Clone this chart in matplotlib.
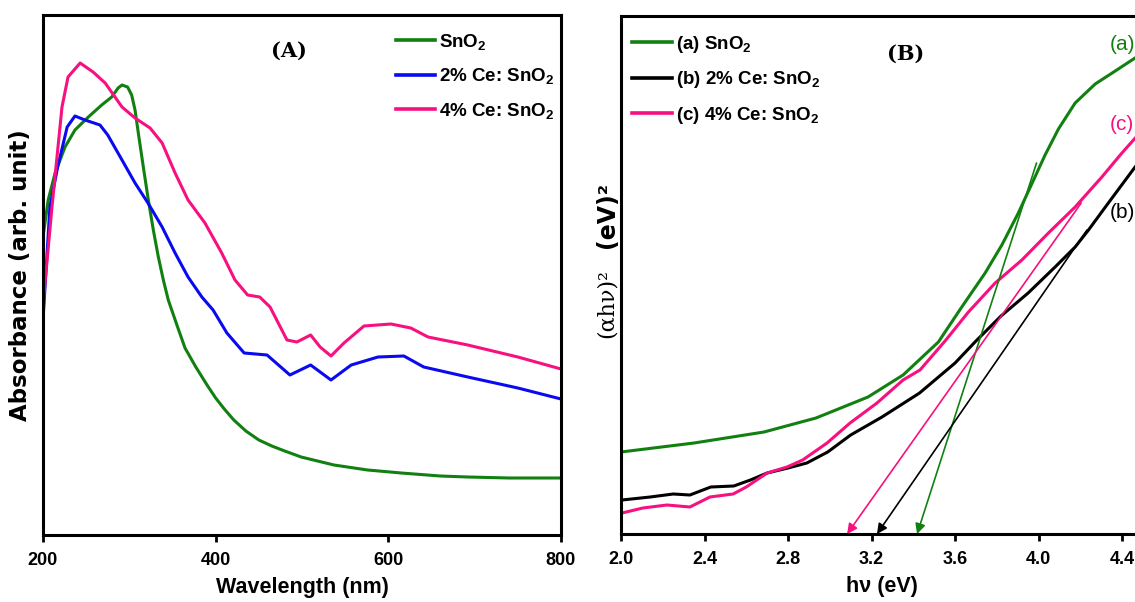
import numpy as np
import matplotlib
matplotlib.use("Agg")
import matplotlib.pyplot as plt

# UV-Vis absorbance spectra (arbitrary units)
wl_sno2 = [200, 206, 214, 225.5, 237, 252.5, 268, 279.6, 287, 291.5, 298, 302.7, 306.6, 310.4,
           316.2, 322, 327.8, 333.6, 339.4, 345.1, 355.9, 364.5, 377, 390, 400, 410, 421, 435,
           450, 465, 480, 499, 537, 576, 615, 660, 692, 740, 800]
abs_sno2 = [2.98, 3.35, 3.62, 3.88, 4.05, 4.18, 4.30, 4.38, 4.47, 4.50, 4.48, 4.40, 4.25, 4.02,
            3.68, 3.35, 3.05, 2.78, 2.55, 2.35, 2.08, 1.87, 1.68, 1.50, 1.37, 1.26, 1.15, 1.04,
            0.95, 0.89, 0.84, 0.78, 0.70, 0.65, 0.62, 0.59, 0.58, 0.57, 0.57]

wl_ce2 = [200, 208, 217, 228, 237, 248.6, 266, 275, 291.5, 306.6, 321.6, 338, 353, 368, 384,
          397, 413, 433, 459.5, 486, 510, 533.6, 557, 588, 618, 641, 692, 750, 800]
abs_ce2 = [2.15, 3.28, 3.68, 4.08, 4.19, 4.15, 4.10, 4.00, 3.75, 3.52, 3.32, 3.08, 2.82, 2.58, 2.38,
           2.25, 2.02, 1.82, 1.80, 1.60, 1.70, 1.55, 1.70, 1.78, 1.79, 1.68, 1.58, 1.47, 1.36]

wl_ce4 = [200, 210.4, 222, 229, 243, 258, 272, 291.5, 306.6, 324, 338, 353, 368, 387.6, 407,
          422.4, 437, 451, 463, 482.6, 494, 510, 521, 533.6, 548.6, 571.8, 603, 626, 646, 692,
          750, 800]
abs_ce4 = [2.30, 3.28, 4.28, 4.58, 4.72, 4.63, 4.52, 4.28, 4.17, 4.07, 3.92, 3.62, 3.35, 3.12, 2.82,
           2.55, 2.40, 2.38, 2.28, 1.95, 1.93, 2.00, 1.88, 1.79, 1.92, 2.09, 2.11, 2.07, 1.98, 1.90,
           1.78, 1.66]

# Tauc plot (alpha h nu)^2 vs photon energy
ev_a = [2.0, 2.35, 2.685, 2.934, 3.183, 3.351, 3.52, 3.632, 3.744, 3.824, 3.903, 3.967, 4.031,
        4.095, 4.175, 4.271, 4.367, 4.462]
tauc_a = [0.82, 0.91, 1.02, 1.16, 1.37, 1.59, 1.92, 2.27, 2.61, 2.89, 3.21, 3.50, 3.79,
          4.05, 4.31, 4.50, 4.63, 4.76]

ev_b = [2.005, 2.14, 2.25, 2.33, 2.43, 2.54, 2.62, 2.70, 2.80, 2.89, 2.99, 3.10, 3.25, 3.43,
        3.60, 3.70, 3.82, 3.95, 4.079, 4.175, 4.239, 4.334, 4.462]
tauc_b = [0.34, 0.37, 0.40, 0.39, 0.47, 0.48, 0.54, 0.61, 0.66, 0.71, 0.82, 0.99, 1.17, 1.41,
          1.71, 1.93, 2.18, 2.41, 2.67, 2.87, 3.04, 3.31, 3.67]

ev_c = [2.005, 2.105, 2.22, 2.33, 2.426, 2.537, 2.60, 2.70, 2.795, 2.87, 2.987, 3.097, 3.226,
        3.351, 3.432, 3.552, 3.664, 3.792, 3.92, 4.047, 4.175, 4.303, 4.399, 4.463]
tauc_c = [0.21, 0.26, 0.29, 0.27, 0.37, 0.40, 0.47, 0.61, 0.67, 0.74, 0.91, 1.11, 1.31,
          1.54, 1.64, 1.93, 2.22, 2.51, 2.74, 3.01, 3.27, 3.57, 3.81, 3.96]

# linear fits extrapolated to the energy axis: (start point, band gap)
fit_a = [(3.99, 3.71), 3.418]
fit_b = [(4.232, 3.04), 3.226]
fit_c = [(4.204, 3.31), 3.083]

GREEN = "#118011"
BLUE = "#0a0af0"
PINK = "#f7107f"
BLACK = "#000000"

SANS = ["Liberation Sans", "DejaVu Sans"]

plt.rcParams["mathtext.fontset"] = "custom"
plt.rcParams["mathtext.rm"] = "Liberation Sans:bold"
plt.rcParams["mathtext.default"] = "rm"
plt.rcParams["axes.linewidth"] = 2.2


def style_axes(ax, ticks, labels):
    ax.set_xticks(ticks)
    ax.set_xticklabels(labels, family=SANS, fontweight="bold", fontsize=13)
    ax.set_yticks([])
    ax.tick_params(axis="x", direction="out", length=5, width=2, pad=7)


def add_legend(ax, anchor):
    leg = ax.legend(loc="upper left", bbox_to_anchor=anchor, frameon=False,
                    prop={"family": SANS, "weight": "bold", "size": 13.5},
                    handlelength=2.1, handletextpad=0.2, labelspacing=0.78,
                    borderpad=0, borderaxespad=0)
    for line in leg.get_lines():
        line.set_linewidth(2.6)


def plot_absorbance(ax):
    ax.plot(wl_sno2, abs_sno2, color=GREEN, lw=2.2, label="SnO$_2$", solid_joinstyle="round")
    ax.plot(wl_ce2, abs_ce2, color=BLUE, lw=2.2, label="2% Ce: SnO$_2$", solid_joinstyle="round")
    ax.plot(wl_ce4, abs_ce4, color=PINK, lw=2.2, label="4% Ce: SnO$_2$", solid_joinstyle="round")
    ax.set_xlim(200, 800)
    ax.set_ylim(0, 5.2)
    style_axes(ax, [200, 400, 600, 800], ["200", "400", "600", "800"])
    ax.set_xlabel("Wavelength (nm)", family=SANS, fontweight="bold", fontsize=15.5, labelpad=6)
    ax.set_ylabel("Absorbance (arb. unit)", family="DejaVu Sans", fontweight="bold", fontsize=16.5)
    ax.yaxis.set_label_coords(-0.022, 0.5)
    ax.text(0.475, 0.932, "(A)", transform=ax.transAxes, ha="center", va="center",
            family="DejaVu Serif", fontweight="bold", fontsize=15)
    add_legend(ax, (0.681, 0.968))


def plot_tauc(ax):
    ax.plot(ev_a, tauc_a, color=GREEN, lw=2.2, label="(a) SnO$_2$", solid_joinstyle="round")
    ax.plot(ev_b, tauc_b, color=BLACK, lw=2.2, label="(b) 2% Ce: SnO$_2$", solid_joinstyle="round")
    ax.plot(ev_c, tauc_c, color=PINK, lw=2.2, label="(c) 4% Ce: SnO$_2$", solid_joinstyle="round")
    for fit, col in [(fit_a, GREEN), (fit_b, BLACK), (fit_c, PINK)]:
        start, gap = fit
        ax.annotate("", xy=(gap, 0.0), xytext=start,
                    arrowprops=dict(arrowstyle="-|>", color=col, lw=1.2,
                                    mutation_scale=15, shrinkA=0, shrinkB=0))
    ax.set_xlim(2.0, 4.5)
    ax.set_ylim(0, 5.18)
    style_axes(ax, [2.0, 2.4, 2.8, 3.2, 3.6, 4.0, 4.4],
               ["2.0", "2.4", "2.8", "3.2", "3.6", "4.0", "4.4"])
    ax.set_xlabel("h\u03bd (eV)", family=SANS, fontweight="bold", fontsize=15.5, labelpad=6)
    ax.text(0.545, 0.928, "(B)", transform=ax.transAxes, ha="center", va="center",
            family="DejaVu Serif", fontweight="bold", fontsize=15)
    for name, yv, col in [("(a)", 4.89, GREEN), ("(c)", 4.09, PINK), ("(b)", 3.21, BLACK)]:
        ax.text(4.34, yv, name, color=col, ha="left", va="center", family=SANS, fontsize=15)
    add_legend(ax, (0.022, 0.966))


fig = plt.figure(figsize=(11.35, 6.02), dpi=100)
ax1 = fig.add_axes([43 / 1135, 67 / 602, 518 / 1135, 520 / 602])
ax2 = fig.add_axes([621 / 1135, 68 / 602, 522 / 1135, 518 / 602])
plot_absorbance(ax1)
plot_tauc(ax2)

# y label of the Tauc plot: serif (alpha h nu) followed by bold (eV)
fig.text(607 / 1135, 1 - 304 / 602, "(\u03b1h\u03bd)\u00b2", rotation=90, ha="center", va="center",
         family="DejaVu Serif", fontsize=16)
fig.text(607 / 1135, 1 - 215 / 602, "(eV)\u00b2", rotation=90, ha="center", va="center",
         family="DejaVu Sans", fontweight="bold", fontsize=17)

fig.savefig("out.png", dpi=100)
